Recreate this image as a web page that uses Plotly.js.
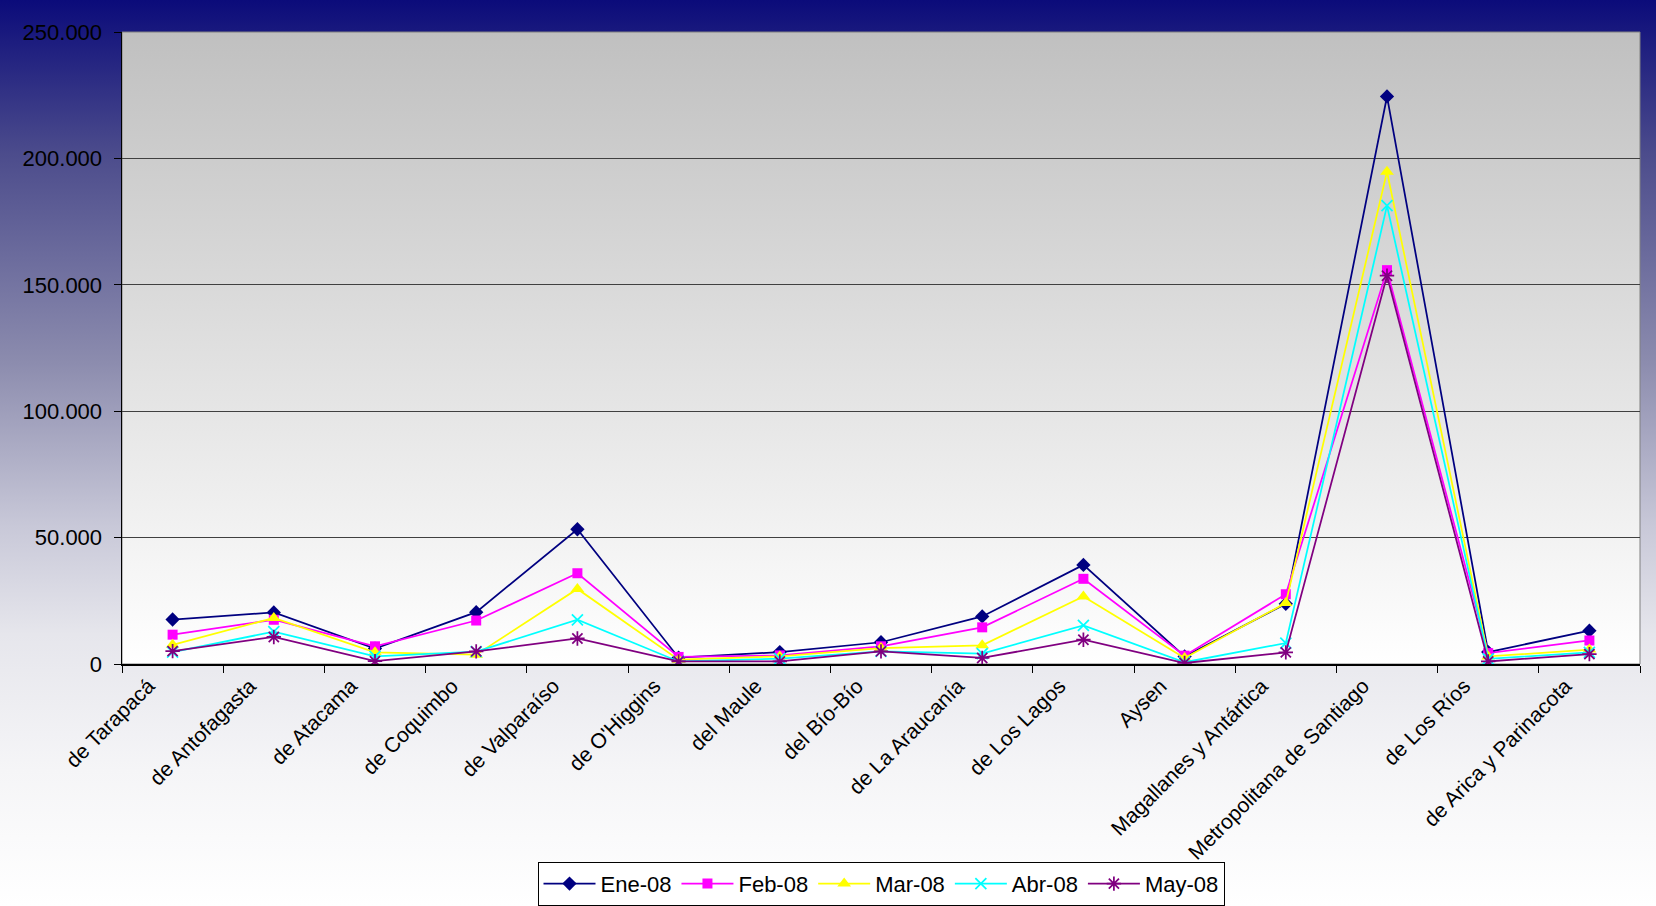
<!DOCTYPE html>
<html>
<head>
<meta charset="utf-8">
<script src="https://cdn.plot.ly/plotly-3.0.1.min.js"></script>
<style>
  html, body { margin: 0; padding: 0; }
  body {
    width: 1656px; height: 906px; overflow: hidden;
    background: linear-gradient(to bottom, #0b0b7a 0%, #4c4c8c 17%, #8c8cae 40%, #c8c8d8 58%, #e6e6ec 70%, #f5f5f7 85%, #ffffff 100%);
  }
  #chart { width: 1656px; height: 906px; }
</style>
</head>
<body>
<div id="chart"></div>
<script>
const regions = ['de Tarapacá', 'de Antofagasta', 'de Atacama', 'de Coquimbo', 'de Valparaíso',
  "de O'Higgins", 'del Maule', 'del Bío-Bío', 'de La Araucanía', 'de Los Lagos', 'Aysen',
  'Magallanes y Antártica', 'Metropolitana de Santiago', 'de Los Ríos', 'de Arica y Parinacota'];

const ene08 = [17600, 20400, 6100, 20500, 53300, 2500, 4700, 8600, 18800, 39200, 3000, 23800, 224500, 4700, 13200];
const feb08 = [11600, 17500, 7000, 17200, 35900, 2800, 3400, 7000, 14500, 33700, 3300, 27600, 155800, 4300, 9300];
const mar08 = [7600, 18200, 4600, 3700, 29700, 1700, 3000, 6300, 7400, 26700, 2400, 24100, 194700, 3000, 5700];
const abr08 = [4700, 12800, 3000, 4900, 17500, 1000, 2100, 5000, 4100, 15300, 700, 8300, 181300, 2000, 4600];
const may08 = [5100, 10700, 1100, 5000, 10100, 1000, 1000, 5000, 2400, 9600, 400, 4600, 153600, 1000, 3900];

const seriesNames = ['Ene-08', 'Feb-08', 'Mar-08', 'Abr-08', 'May-08'];
const seriesValues = [ene08, feb08, mar08, abr08, may08];
const seriesColors = ['#000080', '#ff00ff', '#ffff00', '#00ffff', '#800080'];
const seriesSymbols = ['diamond', 'square', 'triangle-up', 'x-thin-open', 'asterisk-open'];
const seriesSizes = [11, 10, 12, 11, 12];

const traces = seriesNames.map((name, i) => ({
  type: 'scatter',
  mode: 'lines+markers',
  name: name,
  x: regions,
  y: seriesValues[i],
  line: { color: seriesColors[i], width: 1.75 },
  marker: {
    symbol: seriesSymbols[i],
    size: seriesSizes[i],
    color: seriesColors[i],
    line: { color: seriesColors[i], width: (i >= 3 ? 1.75 : 0) }
  }
}));

const svg = "<svg xmlns='http://www.w3.org/2000/svg' width='10' height='100' preserveAspectRatio='none'>" +
  "<defs><linearGradient id='g' x1='0' y1='0' x2='0' y2='1'>" +
  "<stop offset='0' stop-color='#c0c0c0'/><stop offset='1' stop-color='#ffffff'/>" +
  "</linearGradient></defs><rect width='10' height='100' fill='url(#g)'/></svg>";
const gradSrc = 'data:image/svg+xml;charset=utf-8,' + encodeURIComponent(svg);

const fontFam = '"Liberation Sans", Arial, sans-serif';

const layout = {
  width: 1656,
  height: 906,
  margin: { l: 122, r: 16, t: 32, b: 242, autoexpand: false },
  paper_bgcolor: 'rgba(0,0,0,0)',
  plot_bgcolor: 'rgba(0,0,0,0)',
  separators: ',.',
  font: { family: fontFam, size: 22, color: '#000000' },
  showlegend: true,
  legend: {
    orientation: 'h',
    x: 0.5, xanchor: 'center',
    y: -0.313, yanchor: 'top',
    bgcolor: '#ffffff',
    bordercolor: '#000000',
    borderwidth: 1,
    itemwidth: 52,
    font: { family: fontFam, size: 22, color: '#000000' },
    traceorder: 'normal'
  },
  xaxis: {
    type: 'category',
    tickangle: -45,
    tickson: 'boundaries',
    ticks: 'outside',
    ticklen: 7,
    tickcolor: '#000000',
    showline: true,
    linecolor: '#000000',
    linewidth: 1.5,
    showgrid: false,
    zeroline: false,
    ticklabelshift: -24,
    tickfont: { family: fontFam, size: 21, color: '#000000' },
    range: [-0.5, 14.5]
  },
  yaxis: {
    range: [0, 250000],
    dtick: 50000,
    tick0: 0,
    tickformat: ',d',
    ticks: 'outside',
    ticklen: 7,
    tickcolor: '#000000',
    showline: true,
    linecolor: '#000000',
    linewidth: 1.5,
    showgrid: true,
    gridcolor: '#404040',
    gridwidth: 1,
    zeroline: false,
    ticklabelstandoff: 7,
    tickfont: { family: fontFam, size: 22, color: '#000000' }
  },
  images: [{
    source: gradSrc,
    xref: 'paper', yref: 'paper',
    x: 0, y: 1, sizex: 1, sizey: 1,
    xanchor: 'left', yanchor: 'top',
    sizing: 'stretch',
    layer: 'below'
  }],
  shapes: [{
    type: 'rect',
    xref: 'paper', yref: 'paper',
    x0: 0, x1: 1, y0: 0, y1: 1,
    line: { color: '#808080', width: 1 },
    layer: 'below'
  }]
};

Plotly.newPlot('chart', traces, layout, { displayModeBar: false, staticPlot: true });
</script>
</body>
</html>
